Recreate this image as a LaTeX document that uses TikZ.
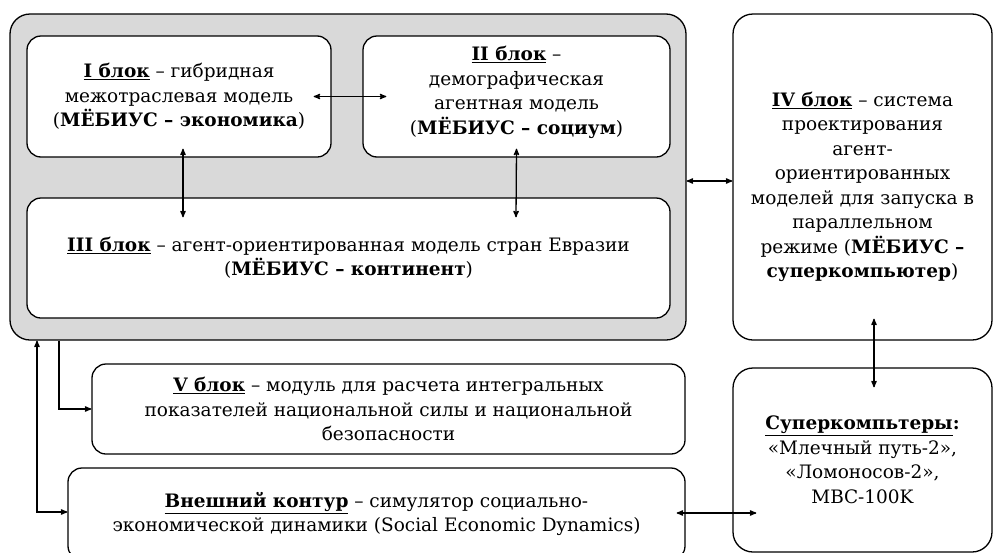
\documentclass[tikz,border=0pt]{standalone}
\usepackage{fontspec}
\setmainfont{DejaVu Serif}
\usetikzlibrary{positioning, arrows}

\newcommand{\blk}[1]{\underline{\textbf{#1}}}

\begin{document}
\begin{tikzpicture}[x=1pt, y=-1pt, >=stealth', line width=1.3pt,
                    box/.style={rectangle, draw, fill=white, rounded corners=14pt, align=center, inner sep=0pt,
                                font=\fontsize{18.5}{24.5}\selectfont},
                    txt/.style={align=center, inner sep=0pt, font=\fontsize{18.5}{24.5}\selectfont},
                    core/.style={rectangle, draw, fill=black!15, rounded corners=20pt}]

  \useasboundingbox (0,0) rectangle (993,552);
  \clip (0,0) rectangle (993,552);

  \node[core, minimum width=676pt, minimum height=326pt] (core) at (348,177) {};

  \node[box, minimum width=304pt, minimum height=121pt] (b1) at (179,96.5)
        {\blk{I блок} – гибридная\\ межотраслевая модель\\ (\textbf{МЁБИУС – экономика})};
  \node[box, minimum width=307pt, minimum height=121pt] (b2) at (516.5,96.5) {};
  \node[txt] (b2t) at ([yshift=4pt]b2.center)
        {\blk{II блок} –\\ демографическая\\ агентная модель\\ (\textbf{МЁБИУС – социум})};
  \node[box, minimum width=643pt, minimum height=120pt] (b3) at (348.5,258)
        {\blk{III блок} – агент-ориентированная модель стран Евразии\\ (\textbf{МЁБИУС – континент})};
  \node[box, rounded corners=20pt, minimum width=259pt, minimum height=326pt] (b4) at (862.5,177) {};
  \node[txt] (b4t) at ([yshift=-10pt]b4.center)
        {\blk{IV блок} – система\\ проектирования\\ агент-\\ ориентированных\\ моделей для запуска в\\
         параллельном\\ режиме (\textbf{МЁБИУС –}\\ \textbf{суперкомпьютер})};
  \node[box, minimum width=593pt, minimum height=90pt] (b5) at (388.5,409)
        {\blk{V блок} – модуль для расчета интегральных\\ показателей национальной силы и национальной\\ безопасности};
  \node[box, minimum width=617pt, minimum height=92pt] (ext) at (376.5,514)
        {\blk{Внешний контур} – симулятор социально-\\ экономической динамики (Social Economic Dynamics)};
  \node[box, rounded corners=20pt, minimum width=259pt, minimum height=184pt] (sup) at (862.5,460)
        {\blk{Суперкомпьтеры}\textbf{:}\\ «Млечный путь-2»,\\ «Ломоносов-2»,\\ МВС-100K};

  \coordinate (es) at ([yshift=1pt]ext.east -| sup.west);

  \draw[<->] ([xshift=-18pt]b1.east) -- ([xshift=24pt]b2.west);
  \draw[<->] ([xshift=4pt,yshift=9pt]b1.south) -- ([xshift=-165.5pt,yshift=-20pt]b3.north);
  \draw[<->] ([yshift=9pt]b2.south) -- ([xshift=167.5pt,yshift=-20pt]b3.north);
  \draw[<->] ([yshift=-4pt]core.east) -- ([yshift=-4pt]b4.west);
  \draw[<->] ([xshift=11.5pt,yshift=22pt]b4.south) -- ([xshift=11.5pt,yshift=-20pt]sup.north);
  \draw[->] ([xshift=-289pt]core.south) |- (b5.west);
  \draw[<->] ([xshift=-311pt]core.south) |- ([yshift=2pt]ext.west);
  \draw[<->] ([xshift=-9pt,yshift=1pt]ext.east) -- ([xshift=24pt]es);

\end{tikzpicture}
\end{document}
